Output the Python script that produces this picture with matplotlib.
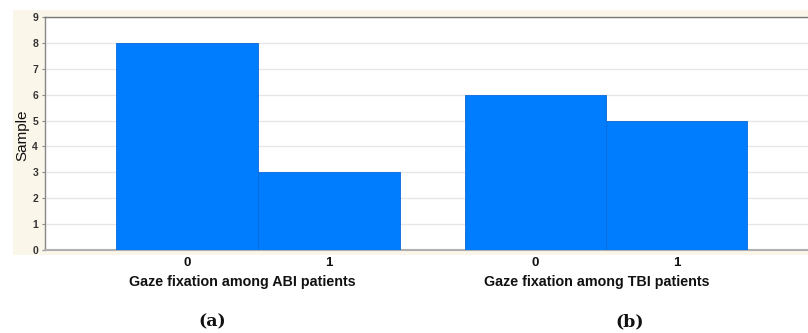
import matplotlib
matplotlib.use("Agg")
import matplotlib.pyplot as plt
from matplotlib.patches import Rectangle

# Gaze fixation counts per group
categories = ["0", "1"]
abi_counts = [8, 3]
tbi_counts = [6, 5]
group_titles = ["Gaze fixation among ABI patients", "Gaze fixation among TBI patients"]
panel_tags = ["(a)", "(b)"]
y_ticks = list(range(0, 10))

W, H = 808, 333
fig = plt.figure(figsize=(W / 100, H / 100), dpi=100)
fig.patch.set_facecolor("white")

# cream panel behind the plot
fig.patches.append(Rectangle((13 / W, 1 - 255 / H), (W - 13) / W, (255 - 10) / H,
                             transform=fig.transFigure, facecolor="#fbf6ea",
                             edgecolor="none", zorder=-10))

ax = fig.add_axes([45 / W, 1 - 250 / H, (W - 45) / W, (250 - 17) / H])
ax.set_zorder(1)
ax.set_facecolor("white")

bar_color = "#007cff"
edge_color = "#0b6ad8"
abi_pos = [1.0, 2.0]
tbi_pos = [3.454, 4.447]

ax.bar(abi_pos, abi_counts, width=1.0, color=bar_color, edgecolor=edge_color, linewidth=0.6, zorder=3)
ax.bar(tbi_pos, tbi_counts, width=0.993, color=bar_color, edgecolor=edge_color, linewidth=0.6, zorder=3)

ax.set_xlim(0, 5.373)
ax.set_ylim(0, 9)
ax.set_yticks(y_ticks)
ax.set_yticklabels([str(v) for v in y_ticks], fontsize=7.5, fontfamily="Liberation Sans",
                   fontweight="bold", color="#333333")
ax.yaxis.grid(True, color="#e6e6e6", linewidth=0.9, zorder=0)
ax.set_axisbelow(True)

ax.set_xticks(abi_pos + tbi_pos)
ax.set_xticklabels(categories + categories, fontsize=9.5, fontfamily="Liberation Sans",
                   fontweight="bold", color="#111111")
ax.tick_params(axis="x", direction="in", length=2, pad=5, color="#555555")
ax.tick_params(axis="y", direction="out", length=2, pad=3, color="#888888")

ax.spines["right"].set_visible(False)
ax.spines["left"].set_color("#888888")
ax.spines["top"].set_color("#777777")
ax.spines["bottom"].set_color("#b0b0b0")
ax.spines["bottom"].set_linewidth(1.5)
for side in ["left", "top"]:
    ax.spines[side].set_linewidth(1.0)

fig.text(22 / W, 1 - 135 / H, "Sample", rotation=90, ha="center", va="center",
         fontsize=11, fontfamily="Liberation Sans", color="#111111")

centers_x = [242, 597]
for cx, title in zip(centers_x, group_titles):
    fig.text(cx / W, 1 - 282 / H, title, ha="center", va="center", fontsize=10.3,
             fontfamily="Liberation Sans", fontweight="bold", color="#111111")

tag_x = [212, 630]
for cx, tag in zip(tag_x, panel_tags):
    fig.text(cx / W, 1 - 322 / H, tag, ha="center", va="center", fontsize=12.5,
             fontfamily="DejaVu Serif", fontweight="bold", color="#111111")

fig.savefig("out.png", dpi=100, facecolor="white")
